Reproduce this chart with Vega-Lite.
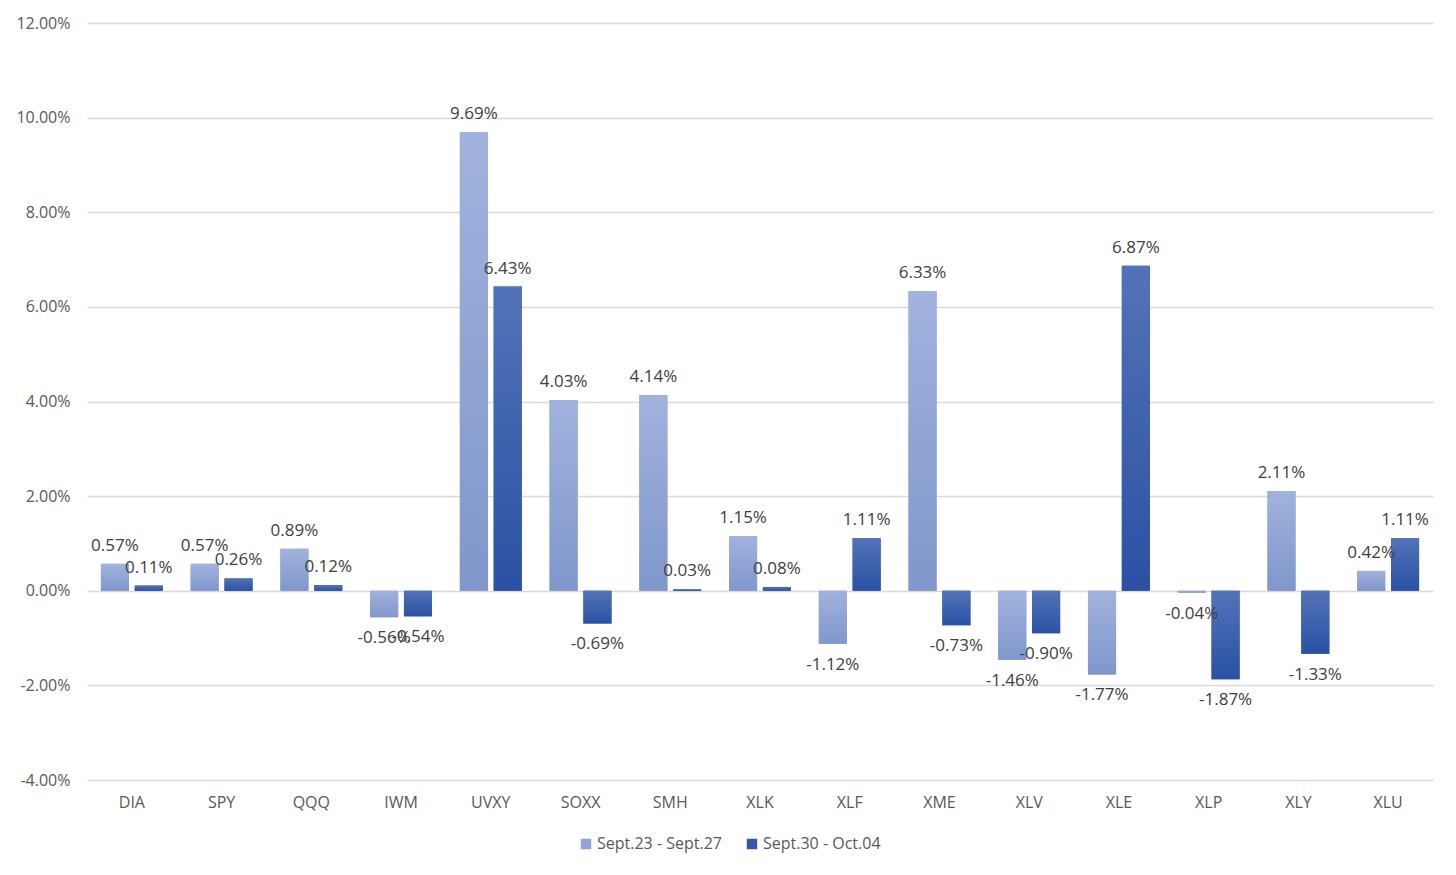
{
  "$schema": "https://vega.github.io/schema/vega-lite/v6.json",
  "autosize": "none",
  "width": 1346,
  "height": 757,
  "padding": {"left": 87, "top": 23, "right": 23, "bottom": 95},
  "background": "white",
  "data": {
    "values": [
      {"etf": "DIA", "week": "Sept.23 - Sept.27", "v": 0.0057},
      {"etf": "DIA", "week": "Sept.30 - Oct.04", "v": 0.0011},
      {"etf": "SPY", "week": "Sept.23 - Sept.27", "v": 0.0057},
      {"etf": "SPY", "week": "Sept.30 - Oct.04", "v": 0.0026},
      {"etf": "QQQ", "week": "Sept.23 - Sept.27", "v": 0.0089},
      {"etf": "QQQ", "week": "Sept.30 - Oct.04", "v": 0.0012},
      {"etf": "IWM", "week": "Sept.23 - Sept.27", "v": -0.0056},
      {"etf": "IWM", "week": "Sept.30 - Oct.04", "v": -0.0054},
      {"etf": "UVXY", "week": "Sept.23 - Sept.27", "v": 0.0969},
      {"etf": "UVXY", "week": "Sept.30 - Oct.04", "v": 0.0643},
      {"etf": "SOXX", "week": "Sept.23 - Sept.27", "v": 0.0403},
      {"etf": "SOXX", "week": "Sept.30 - Oct.04", "v": -0.0069},
      {"etf": "SMH", "week": "Sept.23 - Sept.27", "v": 0.0414},
      {"etf": "SMH", "week": "Sept.30 - Oct.04", "v": 0.0003},
      {"etf": "XLK", "week": "Sept.23 - Sept.27", "v": 0.0115},
      {"etf": "XLK", "week": "Sept.30 - Oct.04", "v": 0.0008},
      {"etf": "XLF", "week": "Sept.23 - Sept.27", "v": -0.0112},
      {"etf": "XLF", "week": "Sept.30 - Oct.04", "v": 0.0111},
      {"etf": "XME", "week": "Sept.23 - Sept.27", "v": 0.0633},
      {"etf": "XME", "week": "Sept.30 - Oct.04", "v": -0.0073},
      {"etf": "XLV", "week": "Sept.23 - Sept.27", "v": -0.0146},
      {"etf": "XLV", "week": "Sept.30 - Oct.04", "v": -0.009},
      {"etf": "XLE", "week": "Sept.23 - Sept.27", "v": -0.0177},
      {"etf": "XLE", "week": "Sept.30 - Oct.04", "v": 0.0687},
      {"etf": "XLP", "week": "Sept.23 - Sept.27", "v": -0.0004},
      {"etf": "XLP", "week": "Sept.30 - Oct.04", "v": -0.0187},
      {"etf": "XLY", "week": "Sept.23 - Sept.27", "v": 0.0211},
      {"etf": "XLY", "week": "Sept.30 - Oct.04", "v": -0.0133},
      {"etf": "XLU", "week": "Sept.23 - Sept.27", "v": 0.0042},
      {"etf": "XLU", "week": "Sept.30 - Oct.04", "v": 0.0111}
    ]
  },
  "encoding": {
    "x": {
      "field": "etf",
      "type": "nominal",
      "sort": null,
      "title": null,
      "scale": {"paddingInner": 0.31, "paddingOuter": 0.155},
      "axis": {
        "labelAngle": 0,
        "ticks": false,
        "domain": false,
        "labelPadding": 14,
        "labelFontSize": 16,
        "labelColor": "#595959",
        "labelFont": "Open Sans"
      }
    },
    "xOffset": {
      "field": "week",
      "type": "nominal",
      "scale": {"domain": ["Sept.23 - Sept.27", "Sept.30 - Oct.04"], "paddingInner": 0.17}
    },
    "y": {
      "field": "v",
      "type": "quantitative",
      "title": null,
      "scale": {"domain": [-0.04, 0.12], "nice": false, "zero": false},
      "axis": {
        "format": ".2%",
        "values": [-0.04, -0.02, 0, 0.02, 0.04, 0.06, 0.08, 0.1, 0.12],
        "ticks": false,
        "domain": false,
        "labelPadding": 17,
        "labelFontSize": 16,
        "labelColor": "#595959",
        "labelFont": "Open Sans",
        "gridColor": "#d9d9d9",
        "gridWidth": 1.3
      }
    }
  },
  "layer": [
    {
      "mark": {"type": "bar"},
      "encoding": {
        "color": {
          "field": "week",
          "type": "nominal",
          "scale": {"domain": ["Sept.23 - Sept.27", "Sept.30 - Oct.04"], "range": ["#8fa3d6", "#3158ab"]},
          "legend": {
            "title": null,
            "orient": "none",
            "legendX": 491,
            "legendY": 813,
            "direction": "horizontal",
            "symbolType": "square",
            "symbolSize": 110,
            "symbolStrokeWidth": 0,
            "labelFontSize": 16,
            "labelFont": "Open Sans",
            "labelColor": "#595959",
            "columnPadding": 22,
            "labelOffset": 3
          }
        }
      }
    },
    {
      "mark": {"type": "bar"},
      "encoding": {
        "fill": {
          "condition": {
            "test": "datum.week === 'Sept.23 - Sept.27'",
            "value": {
              "gradient": "linear", "x1": 0, "y1": 0, "x2": 0, "y2": 1,
              "stops": [{"offset": 0, "color": "#a1b2dd"}, {"offset": 1, "color": "#8097cc"}]
            }
          },
          "value": {
            "gradient": "linear", "x1": 0, "y1": 0, "x2": 0, "y2": 1,
            "stops": [{"offset": 0, "color": "#5373b8"}, {"offset": 1, "color": "#2a51a4"}]
          }
        }
      }
    },
    {
      "transform": [{"filter": "datum.v >= 0"}],
      "mark": {"type": "text", "baseline": "bottom", "dy": -9, "fontSize": 17, "font": "Open Sans", "color": "#404040"},
      "encoding": {"text": {"field": "v", "type": "quantitative", "format": ".2%"}}
    },
    {
      "transform": [{"filter": "datum.v < 0"}],
      "mark": {"type": "text", "baseline": "top", "dy": 13, "fontSize": 17, "font": "Open Sans", "color": "#404040"},
      "encoding": {"text": {"field": "v", "type": "quantitative", "format": ".2%"}}
    }
  ],
  "config": {
    "view": {"stroke": null},
    "locale": {
      "number": {"decimal": ".", "thousands": ",", "grouping": [3], "currency": ["$", ""], "minus": "-"}
    }
  }
}
